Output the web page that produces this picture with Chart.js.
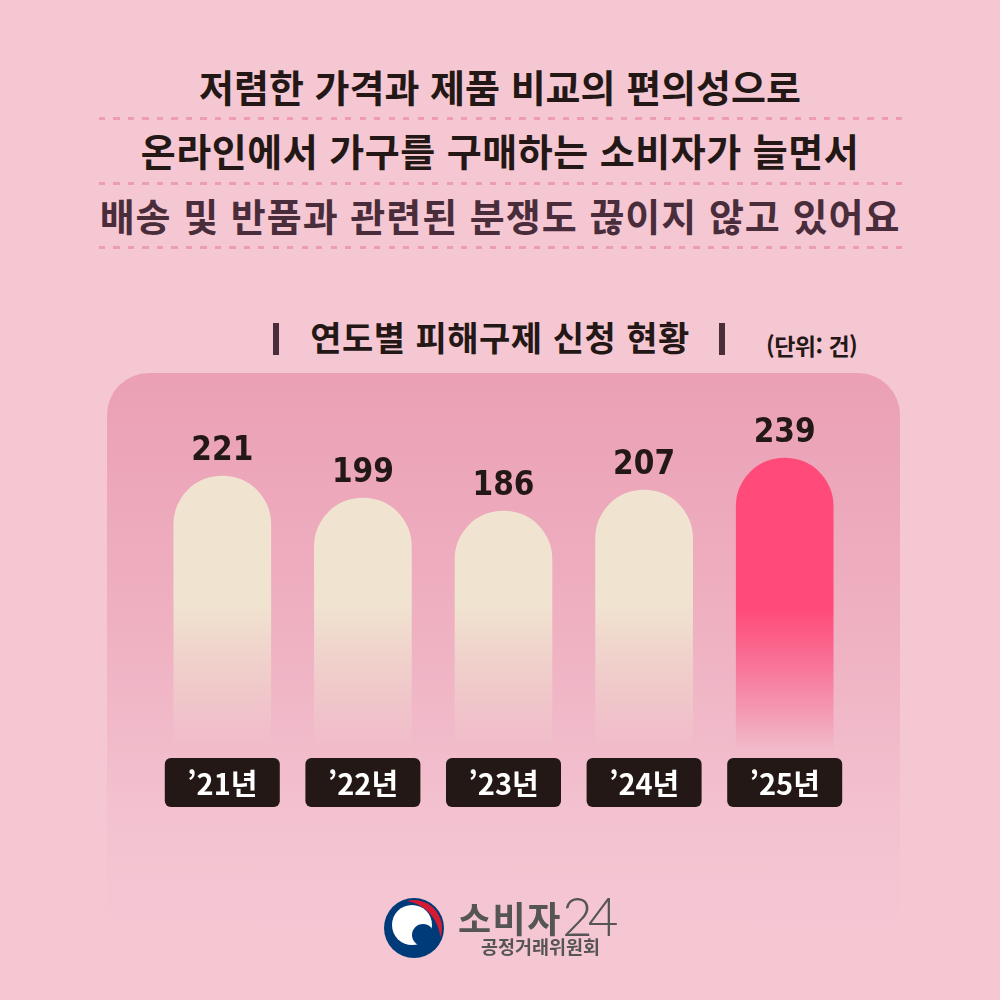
<!DOCTYPE html>
<html lang="ko">
<head>
<meta charset="utf-8">
<script src="https://cdn.jsdelivr.net/npm/chart.js@4.4.1/dist/chart.umd.min.js"></script>
<style>
  body { margin: 0; background: #f5c7d3; }
  #page { position: relative; width: 1000px; height: 1000px; overflow: hidden; background: #f5c7d3;
          font-family: "Noto Sans CJK KR", "Noto Sans", sans-serif; }
  .abs { position: absolute; }
  .line { left: 0; width: 1000px; text-align: center; font-size: 38px; line-height: 38px;
          font-weight: 700; color: #231815; letter-spacing: 0px; white-space: nowrap; }
  .dash { left: 99px; width: 803px; height: 3px;
          background: repeating-linear-gradient(to right, #ee9bb4 0 6px, transparent 6px 14.5px); }
  .panel { left: 107px; top: 373px; width: 793px; height: 600px; border-radius: 42px;
           background: linear-gradient(to bottom, #eba0b4 0%, #efb2c3 45%, #f3c2d0 75%, #f5c7d3 95%); }
  .bar { width: 6px; height: 32px; top: 323px; background: #4a2d3a; }
  canvas { position: absolute; left: 0; top: 0; }
</style>
</head>
<body>
<div id="page">
  <div class="abs line" style="top:67px">저렴한 가격과 제품 비교의 편의성으로</div>
  <div class="abs dash" style="top:117px"></div>
  <div class="abs line" style="top:131px;letter-spacing:0.5px">온라인에서 가구를 구매하는 소비자가 늘면서</div>
  <div class="abs dash" style="top:182px"></div>
  <div class="abs line" style="top:196px;color:#4a2d3a;letter-spacing:1px">배송 및 반품과 관련된 분쟁도 끊이지 않고 있어요</div>
  <div class="abs dash" style="top:246px"></div>

  <div class="abs bar" style="left:273px"></div>
  <div class="abs" style="left:0;width:1000px;text-align:center;top:320px;font-size:34px;line-height:34px;font-weight:700;color:#231815;letter-spacing:0.5px">연도별 피해구제 신청 현황</div>
  <div class="abs bar" style="left:719px"></div>
  <div class="abs" style="left:766px;top:334px;font-size:23px;line-height:23px;font-weight:700;color:#231815;letter-spacing:-0.5px">(단위: 건)</div>

  <div class="abs panel"></div>
  <canvas id="chart" width="1000" height="1000"></canvas>

  <svg class="abs" style="left:382px;top:896px" width="64" height="64" viewBox="-32 -32 64 64">
    <circle cx="0" cy="0" r="30" fill="#003b79"/>
    <circle cx="-2" cy="-3" r="20" fill="#ffffff"/>
    <path d="M -7.2 -27 A 28 28 0 0 1 26.3 9.6 A 40 40 0 0 0 -7.2 -27 Z" fill="#d71a33"/>
    <circle cx="9" cy="7" r="11" fill="#003b79"/>
  </svg>
  <div class="abs" style="left:458px;top:898px;font-size:36px;line-height:38px;font-weight:700;color:#555;letter-spacing:1.5px">소비자</div>
  <div class="abs" style="left:562px;top:889px;font-family:Lato,sans-serif;font-size:53px;line-height:53px;font-weight:300;color:#555;letter-spacing:-5px">24</div>
  <div class="abs" style="left:481px;top:936px;font-size:18.5px;line-height:20px;font-weight:700;color:#555;letter-spacing:0px">공정거래위원회</div>
</div>

<script>
const years = ["’21년", "’22년", "’23년", "’24년", "’25년"];
const cases = [221, 199, 186, 207, 239];
const highlight = [false, false, false, false, true];

// cream bars fade out near the bottom, the latest year is pink
function barFill(context) {
  const chart = context.chart;
  const area = chart.chartArea;
  if (!area) return "#f0e4d0";
  const g = chart.ctx.createLinearGradient(0, area.top, 0, area.bottom);
  if (highlight[context.dataIndex]) {
    g.addColorStop(0, "rgba(255,74,122,1)");
    g.addColorStop(0.62, "rgba(255,74,122,1)");
    g.addColorStop(1, "rgba(255,74,122,0)");
  } else {
    g.addColorStop(0, "rgba(240,228,208,1)");
    g.addColorStop(0.6, "rgba(240,228,208,1)");
    g.addColorStop(1, "rgba(240,228,208,0)");
  }
  return g;
}

const barLabels = {
  id: "barLabels",
  afterDatasetsDraw(chart) {
    const ctx = chart.ctx;
    const meta = chart.getDatasetMeta(0);
    ctx.save();
    meta.data.forEach((bar, i) => {
      ctx.fillStyle = "#231815";
      ctx.textAlign = "center";
      ctx.textBaseline = "alphabetic";
      ctx.font = 'bold 33px "DejaVu Sans Condensed", "Liberation Sans Narrow", "DejaVu Sans", sans-serif';
      ctx.fillText(String(cases[i]), bar.x, bar.y - 16);

      const w = 115, h = 49, top = 758;
      ctx.beginPath();
      ctx.roundRect(bar.x - w / 2, top, w, h, 6);
      ctx.fillStyle = "#231815";
      ctx.fill();
      ctx.fillStyle = "#ffffff";
      ctx.textBaseline = "middle";
      ctx.font = '700 29px "Noto Sans CJK KR", sans-serif';
      ctx.fillText(years[i], bar.x, top + h / 2 + 1);
    });
    ctx.restore();
  }
};

const ctx = document.getElementById("chart");
const myChart = new Chart(ctx, {
  type: "bar",
  data: {
    labels: years,
    datasets: [
      {
        data: cases,
        base: -53,
        backgroundColor: barFill,
        borderWidth: 0,
        barThickness: 97,
        borderSkipped: "start",
        borderRadius: { topLeft: 48.5, topRight: 48.5, bottomLeft: 0, bottomRight: 0 },
      },
    ],
  },
  options: {
    responsive: false,
    animation: false,
    devicePixelRatio: 1,
    layout: { padding: { left: 152, right: 145, top: 380, bottom: 250 } },
    plugins: { legend: { display: false }, tooltip: { enabled: false } },
    scales: {
      x: { display: false, grid: { display: false } },
      y: { display: false, min: -53, max: 317, grid: { display: false } },
    },
  },
  plugins: [barLabels],
});
</script>
</body>
</html>
